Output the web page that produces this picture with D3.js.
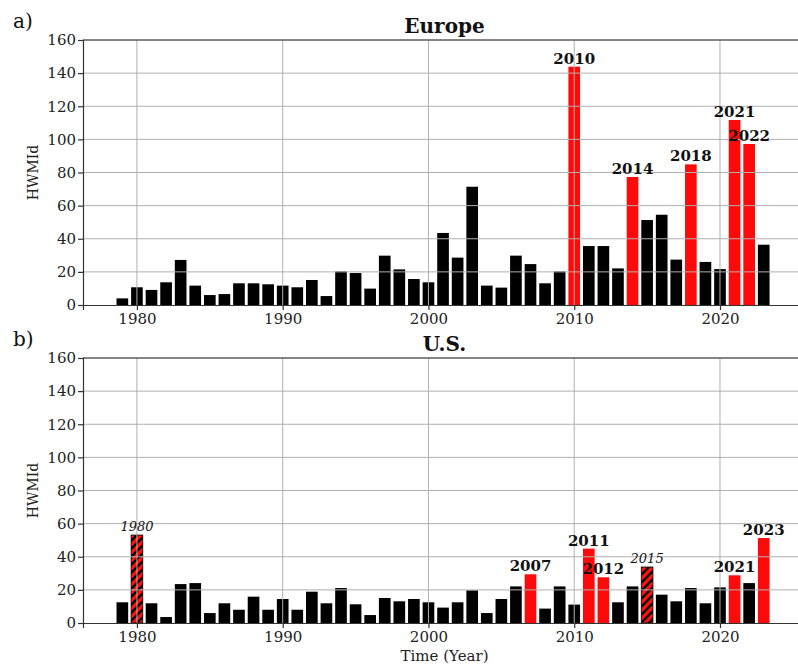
<!DOCTYPE html>
<html>
<head>
<meta charset="utf-8">
<script src="https://cdn.jsdelivr.net/npm/d3@7"></script>
<style>
  body { margin: 0; background: #fff; }
  svg { font-family: "DejaVu Serif", serif; }
</style>
</head>
<body>
<svg width="798" height="666"></svg>
<script>
var years = d3.range(1979, 2024);

var europeValues = [4, 10.7, 9.1, 13.7, 27.2, 11.7, 6, 6.6, 13.1, 13.1, 12.5, 11.7, 10.7, 15.1, 5.4,
  20.3, 19.3, 9.9, 29.8, 21.5, 15.7, 13.7, 43.5, 28.6, 71.4, 11.7, 10.5, 29.8, 24.7, 13.1,
  20.3, 143.9, 35.6, 35.6, 22.1, 77.3, 51.3, 54.5, 27.4, 84.9, 26, 21.7, 111.7, 97.2, 36.4];

var usValues = [12.5, 53.1, 11.9, 3.6, 23.5, 24.1, 6, 11.9, 8, 15.9, 8, 14.5, 8, 18.9, 11.9,
  21.1, 11.3, 4.8, 15.1, 13.1, 14.5, 12.5, 9.3, 12.5, 19.7, 6, 14.5, 22.1, 29.4, 8.7,
  22.1, 11.1, 44.9, 27.6, 12.5, 22.1, 33.8, 17.1, 13.1, 21.1, 11.9, 21.5, 28.8, 24.1, 51.3];

var europeRed = [2010, 2014, 2018, 2021, 2022];
var usRed = [2007, 2011, 2012, 2021, 2023];
var usHatched = [1980, 2015];

var yTicks = [0, 20, 40, 60, 80, 100, 120, 140, 160];
var xTicks = [1980, 1990, 2000, 2010, 2020];

function main() {
  var svg = d3.select("svg");

  // hatch for the striped bars
  svg.append("defs").append("pattern")
      .attr("id", "hatch")
      .attr("patternUnits", "userSpaceOnUse")
      .attr("width", 8)
      .attr("height", 8)
    .call(function(p) {
      p.append("rect").attr("width", 8).attr("height", 8).attr("fill", "#ff1010");
      p.append("path")
        .attr("d", "M-1,1 l2,-2 M0,8 l8,-8 M7,9 l2,-2")
        .attr("stroke", "#000")
        .attr("stroke-width", 2.3);
    });

  var x = d3.scaleLinear().domain([1976.3, 2025.9]).range([83, 806]);
  var barW = 0.8 * (x(1981) - x(1980));

  function panel(top, bottom, values, title, letter, redYears, hatchYears, showXLabel) {
    var y = d3.scaleLinear().domain([0, 160]).range([bottom, top]);
    var g = svg.append("g");
    var data = years.map(function(yr, i) { return {year: yr, v: values[i]}; });

    g.selectAll("rect.bar")
      .data(data)
      .enter().append("rect")
        .attr("class", "bar")
        .attr("x", function(d) { return x(d.year) - barW / 2; })
        .attr("y", function(d) { return y(d.v); })
        .attr("width", barW)
        .attr("height", function(d) { return y(0) - y(d.v); })
        .attr("fill", function(d) {
          if (hatchYears.indexOf(d.year) >= 0) return "url(#hatch)";
          if (redYears.indexOf(d.year) >= 0) return "#ff0a0a";
          return "#000";
        })
        .attr("stroke", function(d) { return hatchYears.indexOf(d.year) >= 0 ? "#000" : "none"; })
        .attr("stroke-width", 0.8);

    // grid on top of bars
    g.append("g").selectAll("line.h")
      .data(yTicks.slice(1))
      .enter().append("line")
        .attr("x1", x.range()[0]).attr("x2", x.range()[1])
        .attr("y1", function(d) { return y(d); })
        .attr("y2", function(d) { return y(d); })
        .attr("stroke", "#b0b0b0").attr("stroke-width", 1);
    g.append("g").selectAll("line.v")
      .data(xTicks)
      .enter().append("line")
        .attr("x1", function(d) { return x(d); })
        .attr("x2", function(d) { return x(d); })
        .attr("y1", top).attr("y2", bottom)
        .attr("stroke", "#b0b0b0").attr("stroke-width", 1);

    // spines
    g.append("line").attr("x1", x.range()[0]).attr("x2", x.range()[1])
      .attr("y1", top).attr("y2", top).attr("stroke", "#333").attr("stroke-width", 1.2);

    var xa = g.append("g")
      .attr("transform", "translate(0," + bottom + ")")
      .call(d3.axisBottom(x).tickValues(xTicks).tickFormat(d3.format("d")).tickSize(5).tickPadding(3));
    var ya = g.append("g")
      .attr("transform", "translate(" + x.range()[0] + ",0)")
      .call(d3.axisLeft(y).tickValues(yTicks).tickSize(5).tickPadding(2));
    [xa, ya].forEach(function(a) {
      a.attr("font-family", "DejaVu Serif, serif").attr("font-size", 15);
      a.selectAll("path, line").attr("stroke", "#333").attr("stroke-width", 1.2);
      a.selectAll("text").attr("fill", "#222");
    });

    g.append("text")
      .attr("transform", "translate(38," + (top + bottom) / 2 + ") rotate(-90)")
      .attr("text-anchor", "middle")
      .attr("font-size", 14)
      .attr("fill", "#222")
      .text("HWMId");

    g.append("text")
      .attr("x", (x.range()[0] + x.range()[1]) / 2)
      .attr("y", top - 7)
      .attr("text-anchor", "middle")
      .attr("font-size", 20)
      .attr("font-weight", "bold")
      .attr("fill", "#111")
      .text(title);

    g.append("text")
      .attr("x", 13)
      .attr("y", top - 12)
      .attr("font-size", 20)
      .attr("fill", "#111")
      .text(letter);

    // bar labels
    g.selectAll("text.lab")
      .data(data.filter(function(d) { return redYears.indexOf(d.year) >= 0; }))
      .enter().append("text")
        .attr("class", "lab")
        .attr("x", function(d) { return x(d.year); })
        .attr("y", function(d) { return y(d.v) - 3; })
        .attr("text-anchor", "middle")
        .attr("font-size", 15)
        .attr("font-weight", "bold")
        .attr("fill", "#111")
        .text(function(d) { return d.year; });

    g.selectAll("text.ital")
      .data(data.filter(function(d) { return hatchYears.indexOf(d.year) >= 0; }))
      .enter().append("text")
        .attr("class", "ital")
        .attr("x", function(d) { return x(d.year); })
        .attr("y", function(d) { return y(d.v) - 4; })
        .attr("text-anchor", "middle")
        .attr("font-size", 13)
        .attr("font-style", "italic")
        .attr("fill", "#111")
        .text(function(d) { return d.year; });

    if (showXLabel) {
      g.append("text")
        .attr("x", (x.range()[0] + x.range()[1]) / 2)
        .attr("y", bottom + 38)
        .attr("text-anchor", "middle")
        .attr("font-size", 15)
        .attr("fill", "#222")
        .text("Time (Year)");
    }
  }

  panel(40, 305, europeValues, "Europe", "a)", europeRed, [], false);
  panel(358, 623, usValues, "U.S.", "b)", usRed, usHatched, true);
}
main();
</script>
</body>
</html>
